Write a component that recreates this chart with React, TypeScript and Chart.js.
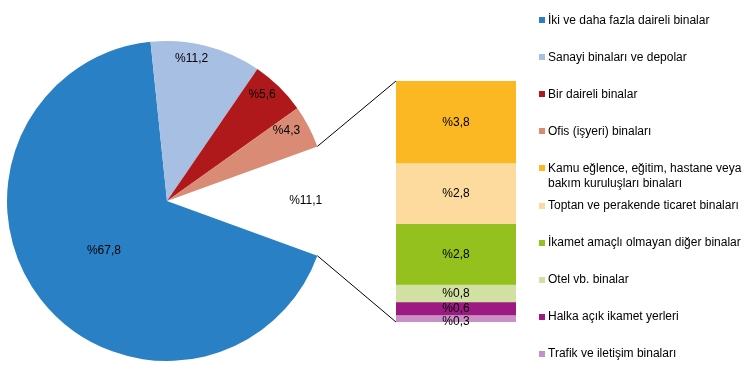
import React, { useEffect, useRef } from 'react';
import { Chart, registerables } from 'chart.js';

Chart.register(...registerables);

// ---------- data ----------
const pieLabels = [
  'İki ve daha fazla daireli binalar',
  'Sanayi binaları ve depolar',
  'Bir daireli binalar',
  'Ofis (işyeri) binaları',
  'Diğer',
];
const pieValues = [67.8, 11.2, 5.6, 4.3, 11.1];

const barLabels = [
  'Kamu eğlence, eğitim, hastane veya bakım kuruluşları binaları',
  'Toptan ve perakende ticaret binaları',
  'İkamet amaçlı olmayan diğer binalar',
  'Otel vb. binalar',
  'Halka açık ikamet yerleri',
  'Trafik ve iletişim binaları',
];
const barValues = [3.8, 2.8, 2.8, 0.8, 0.6, 0.3];

// ---------- style ----------
const pieColors = ['#2980C5', '#A7BFE3', '#B0191B', '#DA8B75', 'rgba(0,0,0,0)'];
const barColors = ['#FBB822', '#FDDB9F', '#95C11F', '#D1E1A2', '#9B1B83', '#C98FC6'];
const pieLabelRadius = [0.5, 0.9, 0.89, 0.867, 0.867];
const pieLabelAngleShift = [0, -4.4, -2.6, -2.8, 0];

const W = 749;
const H = 371;
const FONT = '"Liberation Sans", Arial, Helvetica, sans-serif';
const fmt = (v: number) => '%' + v.toFixed(1).replace('.', ',');

export default function App() {
  const pieCanvas = useRef<HTMLCanvasElement | null>(null);
  const barCanvas = useRef<HTMLCanvasElement | null>(null);

  useEffect(() => {
    if (!pieCanvas.current || !barCanvas.current) return;

    const pieLabelPlugin = {
      id: 'pieValueLabels',
      afterDatasetsDraw(chart: any) {
        const ctx = chart.ctx;
        const meta = chart.getDatasetMeta(0);
        ctx.save();
        ctx.font = `12px ${FONT}`;
        ctx.fillStyle = '#000';
        ctx.textAlign = 'center';
        ctx.textBaseline = 'middle';
        meta.data.forEach((arc: any, i: number) => {
          const p = arc.getProps(['x', 'y', 'startAngle', 'endAngle', 'outerRadius'], true);
          const mid = (p.startAngle + p.endAngle) / 2 + (pieLabelAngleShift[i] * Math.PI) / 180;
          const r = p.outerRadius * pieLabelRadius[i];
          ctx.fillText(fmt(pieValues[i]), p.x + Math.cos(mid) * r, p.y + Math.sin(mid) * r);
        });
        ctx.restore();
      },
    };

    const pie = new Chart(pieCanvas.current, {
      type: 'pie',
      data: {
        labels: pieLabels,
        datasets: [
          {
            data: pieValues,
            backgroundColor: pieColors,
            borderWidth: 0,
          },
        ],
      },
      options: {
        responsive: false,
        animation: false,
        rotation: 110,
        layout: { padding: { left: 7, top: 41, right: 422, bottom: 10 } },
        plugins: { legend: { display: false }, tooltip: { enabled: false } },
      },
      plugins: [pieLabelPlugin],
    });

    const barPlugin = {
      id: 'barLabelsAndConnectors',
      afterDatasetsDraw(chart: any) {
        const ctx = chart.ctx;
        ctx.save();
        ctx.font = `12px ${FONT}`;
        ctx.fillStyle = '#000';
        ctx.textAlign = 'center';
        ctx.textBaseline = 'middle';
        chart.data.datasets.forEach((ds: any, di: number) => {
          const el = chart.getDatasetMeta(di).data[0];
          const p = el.getProps(['x', 'y', 'base'], true);
          const shift = di === 0 ? 3 : 0;
          ctx.fillText(fmt(ds.data[0]), p.x, (p.y + p.base) / 2 + shift);
        });
        // connector lines from the pie gap to the bar
        const gap = pie.getDatasetMeta(0).data[pieValues.length - 1] as any;
        const g = gap.getProps(['x', 'y', 'startAngle', 'endAngle', 'outerRadius'], true);
        const n = chart.data.datasets.length;
        const topEl = chart.getDatasetMeta(n - 1).data[0].getProps(['x', 'y', 'width'], true);
        const botEl = chart.getDatasetMeta(0).data[0].getProps(['x', 'base', 'width'], true);
        ctx.strokeStyle = '#000';
        ctx.lineWidth = 1;
        ctx.beginPath();
        ctx.moveTo(g.x + Math.cos(g.startAngle) * g.outerRadius, g.y + Math.sin(g.startAngle) * g.outerRadius);
        ctx.lineTo(topEl.x - topEl.width / 2, topEl.y);
        ctx.moveTo(g.x + Math.cos(g.endAngle) * g.outerRadius, g.y + Math.sin(g.endAngle) * g.outerRadius);
        ctx.lineTo(botEl.x - botEl.width / 2, botEl.base);
        ctx.stroke();
        ctx.restore();
      },
    };

    // stacked bar: bottom segment first
    const order = barValues.map((_, i) => barValues.length - 1 - i);
    const bar = new Chart(barCanvas.current, {
      type: 'bar',
      data: {
        labels: [''],
        datasets: order.map((i) => ({
          label: barLabels[i],
          data: [barValues[i]],
          backgroundColor: barColors[i],
          borderWidth: 0,
          categoryPercentage: 1,
          barPercentage: 1,
        })),
      },
      options: {
        responsive: false,
        animation: false,
        layout: { padding: { left: 396, right: 233, top: 81, bottom: 49 } },
        scales: {
          x: { stacked: true, display: false },
          y: { stacked: true, display: false, min: 0, max: pieValues[pieValues.length - 1] },
        },
        plugins: { legend: { display: false }, tooltip: { enabled: false } },
      },
      plugins: [barPlugin],
    });

    return () => {
      bar.destroy();
      pie.destroy();
    };
  }, []);

  const legendItems = [
    ...pieLabels.slice(0, 4).map((l, i) => ({ label: l, color: pieColors[i] })),
    ...barLabels.map((l, i) => ({ label: l, color: barColors[i] })),
  ];

  return (
    <div
      style={{
        position: 'fixed',
        left: 0,
        top: 0,
        width: W,
        height: H,
        background: '#fff',
        fontFamily: FONT,
      }}
    >
      <canvas ref={pieCanvas} width={W} height={H} style={{ position: 'absolute', left: 0, top: 0 }} />
      <canvas ref={barCanvas} width={W} height={H} style={{ position: 'absolute', left: 0, top: 0 }} />
      {legendItems.map((it, i) => (
        <div
          key={i}
          style={{
            position: 'absolute',
            left: 539,
            top: 20 + i * 37.1 - 7.5,
            width: 210,
          }}
        >
          <span
            style={{
              position: 'absolute',
              left: 0,
              top: 4.5,
              width: 6,
              height: 6,
              background: it.color,
            }}
          />
          <div
            style={{
              marginLeft: 9,
              width: 200,
              fontSize: 12,
              lineHeight: '15px',
              color: '#000',
            }}
          >
            {it.label}
          </div>
        </div>
      ))}
    </div>
  );
}
